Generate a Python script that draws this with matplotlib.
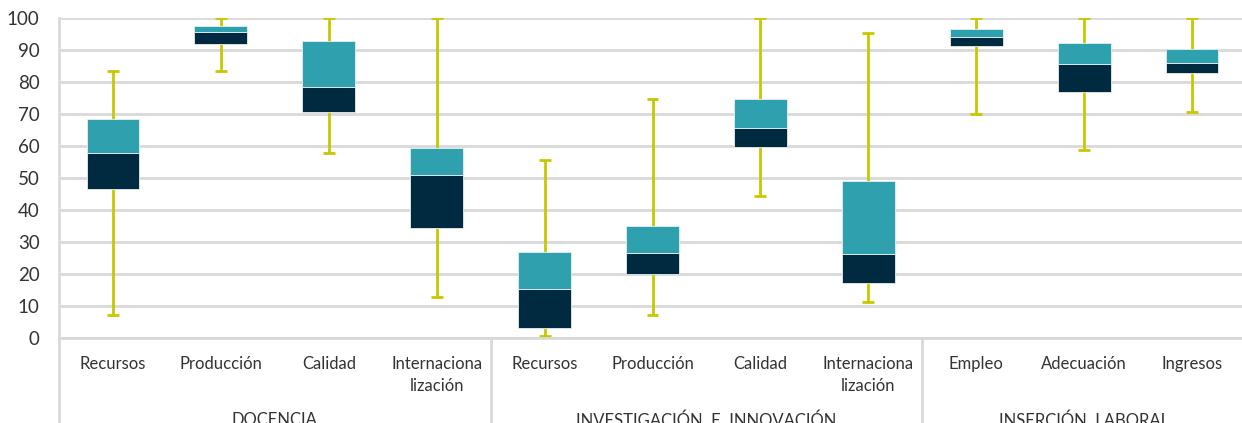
import numpy as np
import matplotlib
matplotlib.use("Agg")
import matplotlib.pyplot as plt
import matplotlib.transforms as mtransforms

plt.rcParams['font.family'] = ['Lato', 'DejaVu Sans']

categories = ["Recursos", "Producción", "Calidad", "Internaciona\nlización",
              "Recursos", "Producción", "Calidad", "Internaciona\nlización",
              "Empleo", "Adecuación", "Ingresos"]
groups = ["DOCENCIA", "INVESTIGACIÓN  E  INNOVACIÓN", "INSERCIÓN  LABORAL"]
group_sizes = [4, 4, 3]

minimum = [7.2, 83.5, 57.8, 12.7, 0.5, 7.2, 44.5, 11.3, 70.1, 58.8, 70.7]
q1 = [46.6, 91.8, 70.7, 34.5, 3.1, 20.1, 59.8, 17.1, 91.3, 76.9, 82.7]
median = [57.7, 95.5, 78.3, 50.8, 15.3, 26.7, 65.5, 26.3, 94.2, 85.5, 85.8]
q3 = [68.4, 97.5, 92.9, 59.5, 26.9, 34.9, 74.7, 49.1, 96.5, 92.2, 90.4]
maximum = [83.5, 100, 100, 100, 55.5, 74.6, 100, 95.2, 100, 100, 100]

dark = "#002A40"
teal = "#2FA0AE"
whisker = "#C8C800"
grid = "#D9D9D9"
text_col = "#333333"

fig = plt.figure(figsize=(12.42, 4.23), dpi=100)
ax = fig.add_axes([59 / 1242, 85 / 423, (1246 - 59) / 1242, 320 / 423])

x = np.arange(len(categories))
q1 = np.array(q1)
median = np.array(median)
q3 = np.array(q3)

# whiskers
ax.vlines(x, minimum, maximum, color=whisker, lw=2, zorder=2)
ax.hlines(minimum, x - 0.055, x + 0.055, color=whisker, lw=2, zorder=2)
ax.hlines(maximum, x - 0.055, x + 0.055, color=whisker, lw=2, zorder=2)

# boxes
ax.bar(x, median - q1, bottom=q1, width=0.49, color=dark, edgecolor="#E6F0F2", lw=0.6, zorder=3)
ax.bar(x, q3 - median, bottom=median, width=0.49, color=teal, edgecolor="#E6F0F2", lw=0.6, zorder=3)

ax.set_xlim(-0.5, len(categories) - 0.5)
ax.set_ylim(0, 100)
ax.set_yticks(np.arange(0, 101, 10))
ax.yaxis.grid(True, color=grid, lw=2)
ax.set_axisbelow(True)
for s in ["top", "right"]:
    ax.spines[s].set_visible(False)
ax.spines["left"].set_color(grid)
ax.spines["left"].set_linewidth(2)
ax.spines["bottom"].set_color(grid)
ax.spines["bottom"].set_linewidth(2)
ax.tick_params(axis="y", length=0, pad=14, labelsize=13.5, labelcolor=text_col)
ax.tick_params(axis="x", length=0, pad=13, labelsize=12, labelcolor=text_col)
ax.set_xticks(x)
ax.set_xticklabels(categories, linespacing=1.45)

# group separators and labels
trans = mtransforms.blended_transform_factory(ax.transData, ax.transAxes)
edges = np.concatenate([[0], np.cumsum(group_sizes)]) - 0.5
for e in edges[:-1]:
    ax.plot([e, e], [0, -0.3], color=grid, lw=2, transform=trans, clip_on=False)
for i, g in enumerate(groups):
    mid = (edges[i] + edges[i + 1]) / 2
    ax.text(mid, -0.232, g, transform=trans, ha="center", va="top",
            fontsize=12, color=text_col)

fig.savefig("out.png", dpi=100)
